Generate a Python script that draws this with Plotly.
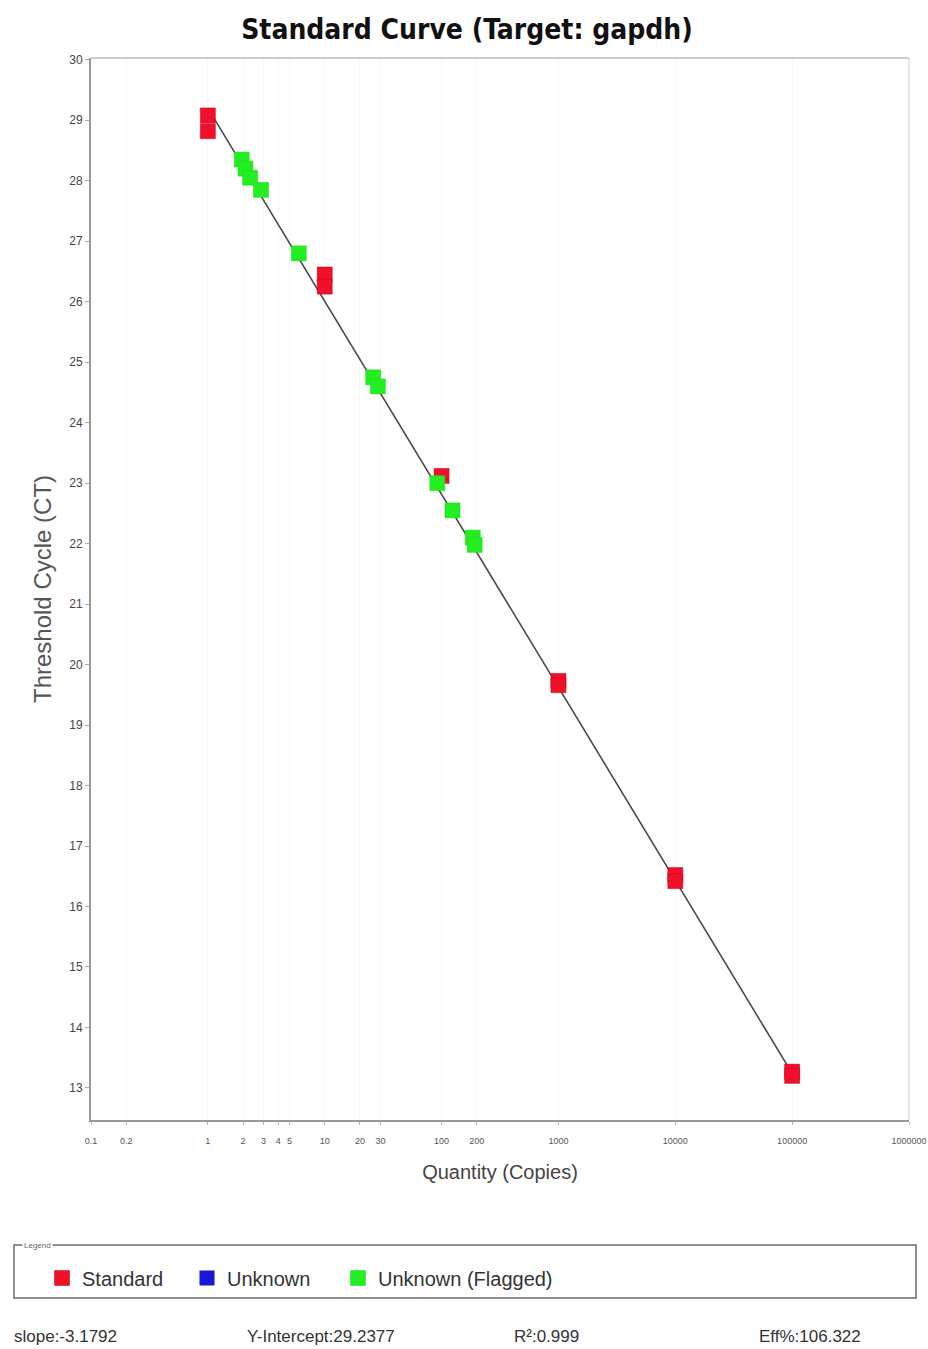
import plotly.graph_objects as go

# ---- data ----
std_qty = [1, 1, 10, 10, 100, 1000, 1000, 10000, 10000, 100000, 100000]
std_ct = [29.08, 28.82, 26.45, 26.25, 23.12, 19.73, 19.66, 16.52, 16.42, 13.27, 13.2]

unknown_qty = [None]
unknown_ct = [None]

flagged_qty = [1.95, 2.1, 2.3, 2.85, 6.0, 26.0, 28.5, 92, 124, 185, 192]
flagged_ct = [28.35, 28.2, 28.05, 27.85, 26.8, 24.75, 24.6, 23.0, 22.55, 22.1, 21.98]

fit_qty = [1, 100000]
fit_ct = [29.2, 13.24]

x_tickvals = [0.1, 0.2, 1, 2, 3, 4, 5, 10, 20, 30, 100, 200, 1000, 10000, 100000, 1000000]
x_ticktext = ["0.1", "0.2", "1", "2", "3", "4", "5", "10", "20", "30", "100", "200",
              "1000", "10000", "100000", "1000000"]
y_tickvals = list(range(13, 31))

stats = ["slope:-3.1792", "Y-Intercept:29.2377", "R²:0.999", "Eff%:106.322"]

# ---- layout geometry (page pixels; body margin removed so figure sits at 0,0) ----
FW, FH = 928, 1349
L = 91
R = FW - 909
T = 58
B = FH - 1120
PW = FW - L - R
PH = FH - T - B


def px(xp):
    return (xp - L) / PW


def py(yp):
    return (FH - B - yp) / PH


def cx(xp):
    return xp / FW


def cy(yp):
    return (FH - yp) / FH


RED = "#f0102a"
BLUE = "#1818d8"
GREEN = "#22ee22"

fig = go.Figure()

fig.add_trace(go.Scatter(
    x=fit_qty, y=fit_ct, mode="lines",
    line=dict(color="#4a4a4a", width=1.6),
    showlegend=False, hoverinfo="skip"))

fig.add_trace(go.Scatter(
    x=std_qty, y=std_ct, mode="markers", name="Standard", legend="legend",
    marker=dict(symbol="square", size=15, color=RED,
                line=dict(color="#c00018", width=0.5))))

fig.add_trace(go.Scatter(
    x=unknown_qty, y=unknown_ct, mode="markers", name="Unknown", legend="legend2",
    marker=dict(symbol="square", size=15, color=BLUE)))

fig.add_trace(go.Scatter(
    x=flagged_qty, y=flagged_ct, mode="markers", name="Unknown (Flagged)", legend="legend3",
    marker=dict(symbol="square", size=15, color=GREEN,
                line=dict(color="#1cd81c", width=0.5))))

font_main = "Liberation Sans, Arial, sans-serif"


def legend_at(text_start_px):
    return dict(orientation="h", xref="container", yref="container",
                x=cx(text_start_px - 40), xanchor="left",
                y=cy(1278), yanchor="middle",
                font=dict(family=font_main, size=20, color="#333333"),
                bgcolor="rgba(0,0,0,0)", borderwidth=0,
                itemsizing="trace", itemclick=False, itemdoubleclick=False)


fig.update_layout(
    width=FW, height=FH,
    margin=dict(l=L, r=R, t=T, b=B, autoexpand=False),
    paper_bgcolor="white", plot_bgcolor="white",
    title=dict(text="<b>Standard Curve (Target: gapdh)</b>",
               x=px(467), xref="paper", xanchor="center",
               y=cy(29), yref="container", yanchor="middle",
               font=dict(family="Liberation Sans Narrow, DejaVu Sans Condensed, Arial Narrow, sans-serif",
                         size=28, color="#111111")),
    showlegend=True,
    legend=legend_at(82),
    legend2=legend_at(227),
    legend3=legend_at(378),
    xaxis=dict(type="log", range=[-1.0, 6.0], tickmode="array",
               tickvals=x_tickvals, ticktext=x_ticktext,
               tickfont=dict(family=font_main, size=9, color="#555555"),
               ticks="outside", ticklen=3, tickcolor="#bbbbbb",
               ticklabelstandoff=8,
               showline=True, linecolor="#999999", linewidth=2,
               mirror=False, showgrid=True, gridcolor="#f7f7f7", zeroline=False,
               title=dict(text="Quantity (Copies)", standoff=20,
                          font=dict(family=font_main, size=20, color="#444444"))),
    yaxis=dict(range=[12.47, 30.03], tickmode="array", tickvals=y_tickvals,
               tickfont=dict(family=font_main, size=12, color="#444444"),
               ticks="outside", ticklen=4, tickcolor="#aaaaaa",
               showline=True, linecolor="#999999", linewidth=2,
               showgrid=False, zeroline=False,
               title=dict(text="Threshold Cycle (CT)", standoff=11,
                          font=dict(family=font_main, size=24, color="#555555"))),
)

# light frame on top/right of the plot area
fig.add_shape(type="line", xref="paper", yref="paper", x0=0, x1=1, y0=1, y1=1,
              line=dict(color="#cccccc", width=2))
fig.add_shape(type="line", xref="paper", yref="paper", x0=1, x1=1, y0=0, y1=1,
              line=dict(color="#dddddd", width=1.5))

# legend frame
fig.add_shape(type="rect", xref="paper", yref="paper",
              x0=px(14), x1=px(916), y0=py(1298), y1=py(1245),
              line=dict(color="#6a6a6a", width=1.5), fillcolor="rgba(0,0,0,0)")
fig.add_annotation(text="Legend", xref="paper", yref="paper",
                   x=px(22), y=py(1245), xanchor="left", yanchor="middle",
                   showarrow=False, bgcolor="white",
                   font=dict(family=font_main, size=8, color="#666666"))

# statistics line
stat_x = [12, 245, 512, 757]
for sx, txt in zip(stat_x, stats):
    fig.add_annotation(text=txt, xref="paper", yref="paper",
                       x=px(sx), y=py(1336), xanchor="left", yanchor="middle",
                       showarrow=False,
                       font=dict(family=font_main, size=17, color="#333333"))

fig.write_html("out.html",
               config={"displayModeBar": False},
               post_script="document.body.style.margin='0px';document.body.style.overflow='hidden';")
